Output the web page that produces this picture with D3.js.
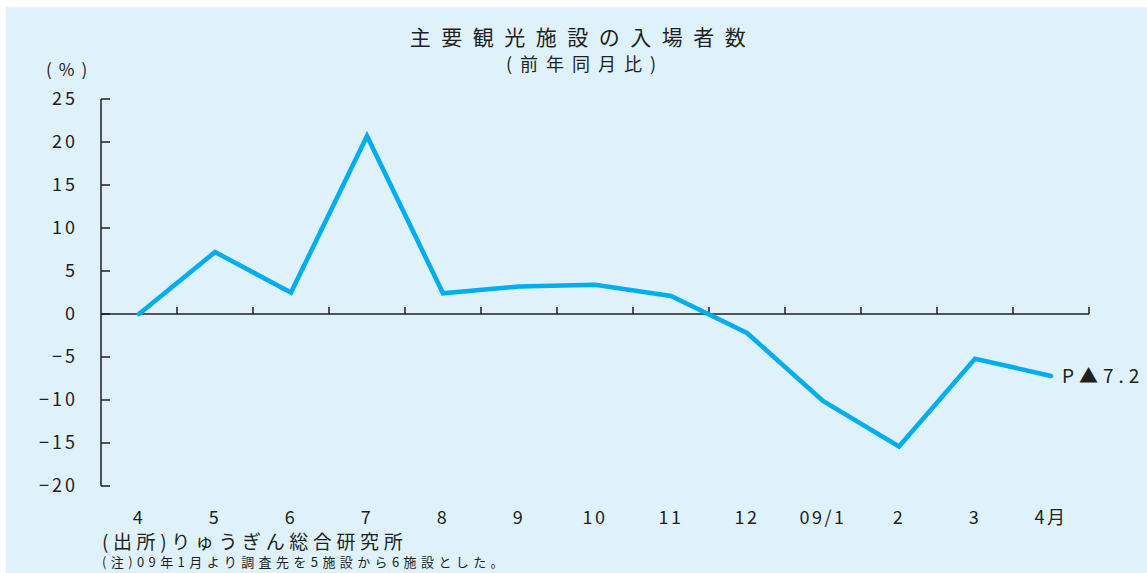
<!DOCTYPE html>
<html>
<head>
<meta charset="utf-8">
<script src="https://cdn.jsdelivr.net/npm/d3@7"></script>
<style>
  html, body { margin: 0; padding: 0; background: #ffffff; }
  svg { display: block; }
  text { font-family: "Noto Sans CJK JP", "Noto Sans", sans-serif; fill: #231f20; }
</style>
</head>
<body>
<svg id="chart" width="1147" height="573"></svg>
<script>
// Month labels (Apr 2008 – Apr 2009)
const months = ["4", "5", "6", "7", "8", "9", "10", "11", "12", "09/1", "2", "3", "4月"];
// Year-on-year change in visitors to major tourist facilities (%)
const visitorsYoY = [0.0, 7.2, 2.5, 20.7, 2.4, 3.2, 3.4, 2.1, -2.2, -10.1, -15.4, -5.2, -7.2];
const yTicks = [25, 20, 15, 10, 5, 0, -5, -10, -15, -20];
const endLabel = "P▲7.2";

const svg = d3.select("#chart");

svg.append("rect")
  .attr("x", 6).attr("y", 7)
  .attr("width", 1141).attr("height", 566)
  .attr("fill", "#dff2fc");

const x = d3.scaleBand().domain(months).range([101, 1089]).paddingInner(0).paddingOuter(0);
const y = d3.scaleLinear().domain([-20, 25]).range([486, 99]);

// Titles
svg.append("text").attr("x", 583).attr("y", 45)
  .attr("text-anchor", "middle").attr("font-size", 21).attr("letter-spacing", 10.5)
  .text("主要観光施設の入場者数");
svg.append("text").attr("x", 585).attr("y", 71)
  .attr("text-anchor", "middle").attr("font-size", 18).attr("letter-spacing", 8)
  .text("(前年同月比)");

svg.append("text").attr("x", 46).attr("y", 76)
  .attr("font-size", 17).attr("letter-spacing", 7)
  .text("(%)");

// Y axis
const yAxis = svg.append("g");
yAxis.append("line")
  .attr("x1", 101).attr("x2", 101).attr("y1", y(25)).attr("y2", y(-20))
  .attr("stroke", "#231f20").attr("stroke-width", 1.5);
yAxis.selectAll(".ytick").data(yTicks).join("line")
  .attr("x1", 101).attr("x2", 110)
  .attr("y1", d => y(d)).attr("y2", d => y(d))
  .attr("stroke", "#231f20").attr("stroke-width", 1.5);
yAxis.selectAll(".ylab").data(yTicks).join("text")
  .attr("x", 78).attr("y", d => y(d) + 6)
  .attr("text-anchor", "end").attr("font-size", 18).attr("letter-spacing", 3)
  .text(d => d < 0 ? "−" + Math.abs(d) : String(d));

// Zero line with upward ticks at category boundaries
svg.append("line")
  .attr("x1", 101).attr("x2", 1089).attr("y1", y(0)).attr("y2", y(0))
  .attr("stroke", "#231f20").attr("stroke-width", 1.5);
const boundaries = months.map(m => x(m) + x.bandwidth());
svg.selectAll(".xtick").data(boundaries).join("line")
  .attr("x1", d => d).attr("x2", d => d)
  .attr("y1", y(0)).attr("y2", y(0) - 7)
  .attr("stroke", "#231f20").attr("stroke-width", 1.5);

// Month labels
svg.selectAll(".xlab").data(months).join("text")
  .attr("x", d => x(d) + x.bandwidth() / 2)
  .attr("y", 524)
  .attr("text-anchor", "middle").attr("font-size", 18).attr("letter-spacing", 2.5)
  .text(d => d);

// Series line
const line = d3.line()
  .x((d, i) => x(months[i]) + x.bandwidth() / 2)
  .y(d => y(d));
svg.append("path")
  .datum(visitorsYoY)
  .attr("d", line)
  .attr("fill", "none")
  .attr("stroke", "#00aeef")
  .attr("stroke-width", 4.6)
  .attr("stroke-linejoin", "miter")
  .attr("stroke-linecap", "round");

// Value label at the last point
const lastI = visitorsYoY.length - 1;
svg.append("text")
  .attr("x", x(months[lastI]) + x.bandwidth() / 2 + 11)
  .attr("y", y(visitorsYoY[lastI]) + 7)
  .attr("font-size", 19).attr("letter-spacing", 5)
  .text(endLabel);

// Source and note
svg.append("text").attr("x", 102).attr("y", 549)
  .attr("font-size", 19).attr("letter-spacing", 4.6)
  .text("(出所)りゅうぎん総合研究所");
svg.append("text").attr("x", 102).attr("y", 567)
  .attr("font-size", 13).attr("letter-spacing", 4.4)
  .text("(注)09年1月より調査先を5施設から6施設とした。");
</script>
</body>
</html>
